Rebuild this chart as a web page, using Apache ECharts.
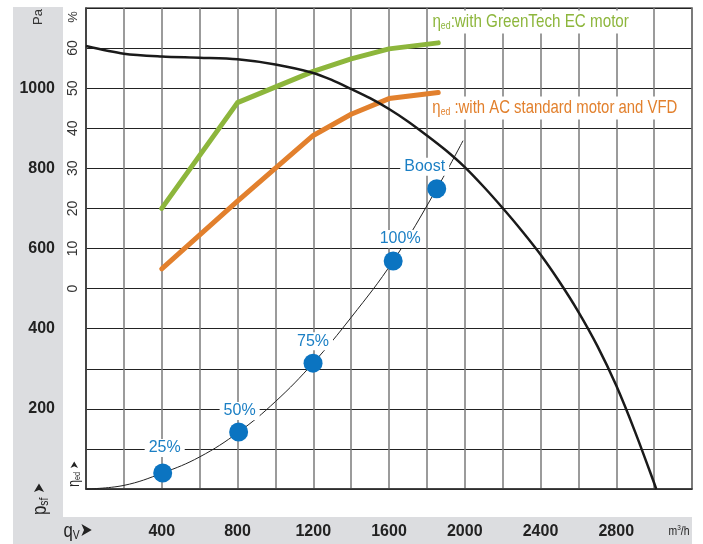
<!DOCTYPE html>
<html>
<head>
<meta charset="utf-8">
<script src="https://cdn.jsdelivr.net/npm/echarts@6/dist/echarts.min.js"></script>
<style>
  html, body { margin: 0; padding: 0; background: #fff; }
  #chart { width: 703px; height: 544px; }
</style>
</head>
<body>
<div id="chart"></div>
<script>
// fan curve p_sf (Pa) vs q_V (m3/h)
const fanFlow = [0, 200, 400, 600, 800, 1000, 1200, 1300, 1400, 1500, 1600, 1700, 1800, 1900, 2000,
  2100, 2200, 2300, 2400, 2500, 2600, 2700, 2800, 2900, 3000, 3011];
const fanPa = [1105, 1086, 1079, 1076, 1072, 1059, 1038, 1020, 998, 975, 948, 917, 882, 845, 803,
  754, 701, 645, 585, 517, 442, 357, 258, 142, 15, 0];

// system curve through the operating points
const sysFlow = [0, 200, 405, 600, 806, 1000, 1199, 1400, 1622, 1852, 1991];
const sysPa = [0, 9, 40, 80, 142, 218, 314, 428, 569, 749, 869];

// operating points
const opFlow = [405, 806, 1199, 1622, 1852];
const opPa = [40, 142, 314, 569, 749];
const opLabels = ['25%', '50%', '75%', '100%', 'Boost'];

// efficiency eta_ed (%)
const greenFlow = [400, 800, 1200, 1400, 1600, 1860];
const greenEff = [20, 46.4, 54.2, 57.3, 59.8, 61.3];
const orangeFlow = [400, 800, 1200, 1400, 1600, 1860];
const orangeEff = [4.9, 21.8, 38.2, 43.5, 47.4, 48.9];

// tick labels
const xTicks = [400, 800, 1200, 1600, 2000, 2400, 2800];
const paTicks = [200, 400, 600, 800, 1000];
const effTicks = [0, 10, 20, 30, 40, 50, 60];

const FONT = '"Liberation Sans", Arial, sans-serif';
const BLUE = '#0b74c1';
const GREEN = '#8db63c';
const ORANGE = '#e2802d';
const GRAY = '#dcdde0';
const NARROW = 0.8;

const zip = (a, b) => a.map((v, i) => [v, b[i]]);
const labelOffsets = [[2, -25], [1, -21], [0, -22], [7, -22], [-12, -22]];

const chart = echarts.init(document.getElementById('chart'));

const option = {
  animation: false,
  backgroundColor: '#fff',
  grid: {
    left: 86, right: 11, top: 8, bottom: 55,
    show: true, backgroundColor: '#fff', borderColor: '#555', borderWidth: 1.5
  },
  xAxis: {
    type: 'value', min: 0, max: 3200, interval: 200,
    axisLine: { show: true, lineStyle: { color: '#333', width: 1.5 } },
    axisTick: { show: false },
    splitLine: { show: true, lineStyle: { color: '#7a7a7a', width: 1.5 } },
    axisLabel: {
      margin: 35, fontFamily: FONT, fontWeight: 'bold', fontSize: 16, color: '#222',
      formatter: v => xTicks.includes(v) ? String(v) : ''
    }
  },
  yAxis: [
    {
      type: 'value', min: 0, max: 1200, interval: 100, position: 'left',
      axisLine: { show: true, lineStyle: { color: '#333', width: 1.5 } },
      axisTick: { show: false },
      splitLine: { show: true, lineStyle: { color: '#222', width: 1.2 } },
      axisLabel: {
        margin: 31, fontFamily: FONT, fontWeight: 'bold', fontSize: 16, color: '#222',
        formatter: v => paTicks.includes(v) ? String(v) : ''
      }
    },
    {
      type: 'value', min: -50, max: 70, interval: 10, position: 'left',
      axisLine: { show: false }, axisTick: { show: false }, splitLine: { show: false },
      axisLabel: {
        margin: 6, rotate: 90, fontFamily: FONT, fontSize: 14, color: '#333',
        formatter: v => effTicks.includes(v) ? String(v) : ''
      }
    }
  ],
  series: [
    {
      name: 'fan', type: 'line', data: zip(fanFlow, fanPa), yAxisIndex: 0,
      smooth: 0.3, showSymbol: false, z: 4,
      lineStyle: { color: '#1a1a1a', width: 2.5 }
    },
    {
      name: 'green', type: 'line', data: zip(greenFlow, greenEff), yAxisIndex: 1,
      showSymbol: false, z: 3,
      lineStyle: { color: GREEN, width: 5, cap: 'round', join: 'round' }
    },
    {
      name: 'orange', type: 'line', data: zip(orangeFlow, orangeEff), yAxisIndex: 1,
      showSymbol: false, z: 3,
      lineStyle: { color: ORANGE, width: 5, cap: 'round', join: 'round' }
    },
    {
      name: 'system', type: 'line', data: zip(sysFlow, sysPa), yAxisIndex: 0,
      smooth: 0.4, showSymbol: false, z: 3,
      lineStyle: { color: '#222', width: 1 }
    },
    {
      name: 'points', type: 'scatter', yAxisIndex: 0, z: 6,
      symbolSize: 19,
      itemStyle: { color: BLUE, opacity: 1 },
      data: opFlow.map((f, i) => ({
        value: [f, opPa[i]],
        label: {
          show: true, formatter: opLabels[i], position: 'inside',
          offset: labelOffsets[i],
          color: '#1b7fc4', fontFamily: FONT, fontSize: 16,
          backgroundColor: '#fff', padding: [1, 4]
        }
      }))
    }
  ],
  graphic: [
    // grey panels
    { type: 'rect', z: -10, shape: { x: 13, y: 7, width: 50, height: 537 }, style: { fill: GRAY } },
    { type: 'rect', z: -10, shape: { x: 13, y: 517, width: 679, height: 27 }, style: { fill: GRAY } },
    // axis titles
    { type: 'text', z: 10, x: 38, y: 17, rotation: Math.PI / 2,
      style: { text: 'Pa', font: '13px ' + FONT, fill: '#333', align: 'center', verticalAlign: 'middle' } },
    { type: 'text', z: 10, x: 73, y: 17, rotation: Math.PI / 2,
      style: { text: '%', font: '13px ' + FONT, fill: '#333', align: 'center', verticalAlign: 'middle' } },
    { type: 'text', z: 10, x: 40, y: 499, rotation: Math.PI / 2, scaleX: NARROW,
      style: {
        text: '{a|p}{s|sf}{r| ➤}', align: 'center', verticalAlign: 'middle',
        rich: {
          a: { fontFamily: FONT, fontSize: 21, fill: '#222' },
          s: { fontFamily: FONT, fontSize: 13, fill: '#222', padding: [8, 0, 0, 0] },
          r: { fontFamily: 'DejaVu Sans', fontSize: 16, fill: '#222' }
        }
      } },
    { type: 'text', z: 10, x: 75, y: 474, rotation: Math.PI / 2, scaleX: NARROW,
      style: {
        text: '{a|η}{s|ed}{r| ➤}', align: 'center', verticalAlign: 'middle',
        rich: {
          a: { fontFamily: FONT, fontSize: 16, fill: '#222' },
          s: { fontFamily: FONT, fontSize: 9, fill: '#222', padding: [6, 0, 0, 0] },
          r: { fontFamily: 'DejaVu Sans', fontSize: 12, fill: '#222' }
        }
      } },
    { type: 'text', z: 10, x: 78, y: 531, scaleX: NARROW,
      style: {
        text: '{a|q}{s|V}{r|➤}', align: 'center', verticalAlign: 'middle',
        rich: {
          a: { fontFamily: FONT, fontSize: 21, fill: '#222' },
          s: { fontFamily: FONT, fontSize: 13, fill: '#222', padding: [8, 0, 0, 0] },
          r: { fontFamily: 'DejaVu Sans', fontSize: 19, fill: '#222' }
        }
      } },
    { type: 'text', z: 10, x: 679, y: 531, scaleX: NARROW,
      style: {
        text: '{a|m}{s|3}{a|/h}', align: 'center', verticalAlign: 'middle',
        rich: {
          a: { fontFamily: FONT, fontSize: 13, fill: '#222' },
          s: { fontFamily: FONT, fontSize: 8, fill: '#222', padding: [0, 0, 6, 0] }
        }
      } },
    // curve annotations
    { type: 'text', z: 20, x: 430, y: 22, scaleX: NARROW,
      style: {
        text: '{a|η}{s|ed}{a|:with GreenTech EC motor}', align: 'left', verticalAlign: 'middle',
        backgroundColor: '#fff', padding: [2, 3],
        rich: {
          a: { fontFamily: FONT, fontSize: 19, fill: GREEN },
          s: { fontFamily: FONT, fontSize: 11, fill: GREEN, padding: [8, 0, 0, 0] }
        }
      } },
    { type: 'text', z: 20, x: 430, y: 108, scaleX: 0.785,
      style: {
        text: '{a|η}{s|ed}{a| :with AC standard motor and VFD}', align: 'left', verticalAlign: 'middle',
        backgroundColor: '#fff', padding: [2, 3],
        rich: {
          a: { fontFamily: FONT, fontSize: 19, fill: ORANGE },
          s: { fontFamily: FONT, fontSize: 11, fill: ORANGE, padding: [8, 0, 0, 0] }
        }
      } }
  ]
};

chart.setOption(option);
</script>
</body>
</html>
